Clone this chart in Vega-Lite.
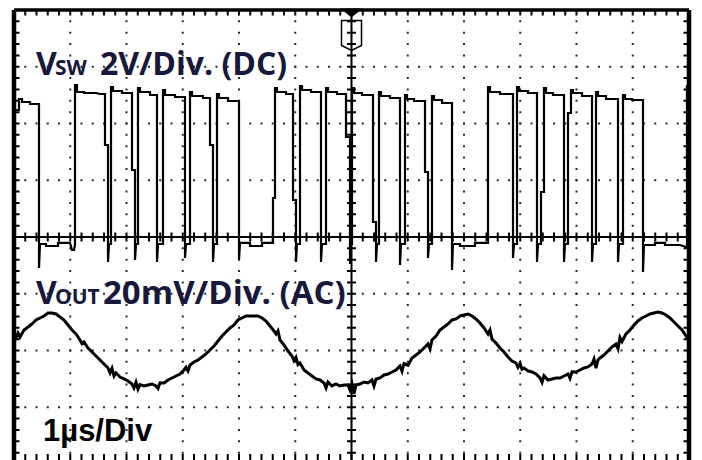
{
  "$schema": "https://vega.github.io/schema/vega-lite/v6.json",
  "width": 675,
  "height": 450,
  "autosize": {"type": "none"},
  "padding": {"left": 14, "top": 10, "right": 13, "bottom": 0},
  "background": "white",
  "config": {"view": {"stroke": null}},
  "resolve": {"scale": {"y": "independent"}},
  "layer": [
    {
      "data": {"values": [{}]},
      "layer": [
        {
          "data": {"values": [{"gx": 1}, {"gx": 2}, {"gx": 3}, {"gx": 4}, {"gx": 5}, {"gx": 7}, {"gx": 8}, {"gx": 9}, {"gx": 10}, {"gx": 11}]},
          "mark": {"type": "rule", "color": "#2a2a2a", "strokeWidth": 2, "strokeDash": [2, 9.35], "strokeDashOffset": 1},
          "encoding": {"x": {"field": "gx", "type": "quantitative", "scale": {"domain": [0, 12], "nice": false, "zero": false}, "axis": null}}
        },
        {
          "data": {"values": [{"gy": -3}, {"gy": -2}, {"gy": -1}, {"gy": 1}, {"gy": 2}, {"gy": 3}]},
          "mark": {"type": "rule", "color": "#2a2a2a", "strokeWidth": 2, "strokeDash": [2, 9.25], "strokeDashOffset": 1},
          "encoding": {"y": {"field": "gy", "type": "quantitative", "scale": {"domain": [-3.93, 4], "nice": false, "zero": false}, "axis": null}}
        },
        {
          "mark": {"type": "rule", "color": "black", "strokeWidth": 2},
          "encoding": {"x": {"datum": 6, "type": "quantitative", "scale": {"domain": [0, 12], "nice": false, "zero": false}, "axis": null}}
        },
        {
          "mark": {"type": "rule", "color": "black", "strokeWidth": 2},
          "encoding": {"y": {"datum": 0, "type": "quantitative", "scale": {"domain": [-3.93, 4], "nice": false, "zero": false}, "axis": null}}
        },
        {
          "mark": {"type": "rule", "color": "black", "strokeWidth": 9, "strokeDash": [2, 9.35], "strokeDashOffset": 1},
          "encoding": {"x": {"datum": 6, "type": "quantitative", "scale": {"domain": [0, 12], "nice": false, "zero": false}, "axis": null}}
        },
        {
          "mark": {"type": "rule", "color": "black", "strokeWidth": 9, "strokeDash": [2, 9.25], "strokeDashOffset": 1},
          "encoding": {"y": {"datum": 0, "type": "quantitative", "scale": {"domain": [-3.93, 4], "nice": false, "zero": false}, "axis": null}}
        },
        {
          "mark": {"type": "rule", "color": "black", "strokeWidth": 11, "strokeDash": [2, 9.35], "strokeDashOffset": 1, "clip": true},
          "encoding": {"x": {"datum": 0, "type": "quantitative", "scale": {"domain": [0, 12], "nice": false, "zero": false}, "axis": null}}
        },
        {
          "mark": {"type": "rule", "color": "black", "strokeWidth": 11, "strokeDash": [2, 9.35], "strokeDashOffset": 1, "clip": true},
          "encoding": {"x": {"datum": 12, "type": "quantitative", "scale": {"domain": [0, 12], "nice": false, "zero": false}, "axis": null}}
        },
        {
          "mark": {"type": "rule", "color": "black", "strokeWidth": 11, "strokeDash": [2, 9.25], "strokeDashOffset": 1, "clip": true},
          "encoding": {"y": {"datum": 4, "type": "quantitative", "scale": {"domain": [-3.93, 4], "nice": false, "zero": false}, "axis": null}}
        },
        {
          "mark": {"type": "rule", "color": "black", "strokeWidth": 20, "strokeDash": [2, 9.25], "strokeDashOffset": 1, "clip": true},
          "encoding": {"y": {"datum": -4, "type": "quantitative", "scale": {"domain": [-3.93, 4], "nice": false, "zero": false}, "axis": null}}
        },
        {
          "mark": {"type": "rule", "color": "black", "strokeWidth": 4.5},
          "encoding": {"x": {"datum": 0, "type": "quantitative", "scale": {"domain": [0, 12], "nice": false, "zero": false}, "axis": null}}
        },
        {
          "mark": {"type": "rule", "color": "black", "strokeWidth": 4.5},
          "encoding": {"x": {"datum": 12, "type": "quantitative", "scale": {"domain": [0, 12], "nice": false, "zero": false}, "axis": null}}
        },
        {
          "mark": {"type": "rule", "color": "black", "strokeWidth": 3.5},
          "encoding": {"y": {"datum": 4, "type": "quantitative", "scale": {"domain": [-3.93, 4], "nice": false, "zero": false}, "axis": null}}
        },
        {
          "mark": {"type": "point", "shape": "M-1,-1.5L1,-1.5L1,1L0,1.5L-1,1Z", "size": 400, "filled": false, "stroke": "black", "strokeWidth": 1.5, "opacity": 1},
          "encoding": {
            "x": {"datum": 6, "type": "quantitative", "scale": {"domain": [0, 12], "nice": false, "zero": false}, "axis": null},
            "y": {"datum": 3.551, "type": "quantitative", "scale": {"domain": [-3.93, 4], "nice": false, "zero": false}, "axis": null}
          }
        },
        {
          "mark": {"type": "point", "shape": "M-1,-0.4L1,-0.4L0,0.4Z", "size": 484, "filled": true, "color": "black", "opacity": 1},
          "encoding": {
            "x": {"datum": 6, "type": "quantitative", "scale": {"domain": [0, 12], "nice": false, "zero": false}, "axis": null},
            "y": {"datum": 3.947, "type": "quantitative", "scale": {"domain": [-3.93, 4], "nice": false, "zero": false}, "axis": null}
          }
        },
        {
          "mark": {"type": "text", "text": "V", "font": "Open Sans", "fontWeight": "bold", "fontSize": 32, "align": "left", "baseline": "alphabetic", "color": "#18183a"},
          "encoding": {
            "x": {"datum": 0.391, "type": "quantitative", "scale": {"domain": [0, 12], "nice": false, "zero": false}, "axis": null},
            "y": {"datum": 2.855, "type": "quantitative", "scale": {"domain": [-3.93, 4], "nice": false, "zero": false}, "axis": null}
          }
        },
        {
          "mark": {"type": "text", "text": "SW", "font": "Open Sans", "fontWeight": "bold", "fontSize": 21, "align": "left", "baseline": "alphabetic", "color": "#18183a"},
          "encoding": {
            "x": {"datum": 0.729, "type": "quantitative", "scale": {"domain": [0, 12], "nice": false, "zero": false}, "axis": null},
            "y": {"datum": 2.855, "type": "quantitative", "scale": {"domain": [-3.93, 4], "nice": false, "zero": false}, "axis": null}
          }
        },
        {
          "mark": {"type": "text", "text": "2V/Div. (DC)", "font": "Open Sans", "fontWeight": "bold", "fontSize": 32, "align": "left", "baseline": "alphabetic", "color": "#18183a"},
          "encoding": {
            "x": {"datum": 1.529, "type": "quantitative", "scale": {"domain": [0, 12], "nice": false, "zero": false}, "axis": null},
            "y": {"datum": 2.855, "type": "quantitative", "scale": {"domain": [-3.93, 4], "nice": false, "zero": false}, "axis": null}
          }
        },
        {
          "mark": {"type": "text", "text": "V", "font": "Open Sans", "fontWeight": "bold", "fontSize": 32, "align": "left", "baseline": "alphabetic", "color": "#18183a"},
          "encoding": {
            "x": {"datum": 0.391, "type": "quantitative", "scale": {"domain": [0, 12], "nice": false, "zero": false}, "axis": null},
            "y": {"datum": -1.181, "type": "quantitative", "scale": {"domain": [-3.93, 4], "nice": false, "zero": false}, "axis": null}
          }
        },
        {
          "mark": {"type": "text", "text": "OUT", "font": "Open Sans", "fontWeight": "bold", "fontSize": 21, "align": "left", "baseline": "alphabetic", "color": "#18183a"},
          "encoding": {
            "x": {"datum": 0.729, "type": "quantitative", "scale": {"domain": [0, 12], "nice": false, "zero": false}, "axis": null},
            "y": {"datum": -1.181, "type": "quantitative", "scale": {"domain": [-3.93, 4], "nice": false, "zero": false}, "axis": null}
          }
        },
        {
          "mark": {"type": "text", "text": "20mV/Div. (AC)", "font": "Open Sans", "fontWeight": "bold", "fontSize": 33, "align": "left", "baseline": "alphabetic", "color": "#18183a"},
          "encoding": {
            "x": {"datum": 1.582, "type": "quantitative", "scale": {"domain": [0, 12], "nice": false, "zero": false}, "axis": null},
            "y": {"datum": -1.181, "type": "quantitative", "scale": {"domain": [-3.93, 4], "nice": false, "zero": false}, "axis": null}
          }
        },
        {
          "mark": {"type": "text", "text": "1µs/Div", "font": "Liberation Sans", "fontWeight": "bold", "fontSize": 31, "align": "left", "baseline": "alphabetic", "color": "black"},
          "encoding": {
            "x": {"datum": 0.516, "type": "quantitative", "scale": {"domain": [0, 12], "nice": false, "zero": false}, "axis": null},
            "y": {"datum": -3.595, "type": "quantitative", "scale": {"domain": [-3.93, 4], "nice": false, "zero": false}, "axis": null}
          }
        }
      ]
    },
    {
      "data": {"values": [
        {"t": 0.0178, "volts": 4.476}, {"t": 0.0889, "volts": 4.476}, {"t": 0.0889, "volts": 4.863}, {"t": 0.1422, "volts": 4.863}, {"t": 0.1422, "volts": 4.758}, {"t": 0.2844, "volts": 4.758}, {"t": 0.2844, "volts": 4.687}, {"t": 0.4444, "volts": 4.687}, {"t": 0.4444, "volts": -1.093}, {"t": 0.4622, "volts": -0.247}, {"t": 0.5689, "volts": -0.247}, {"t": 0.5689, "volts": -0.317}, {"t": 0.7822, "volts": -0.317}, {"t": 0.7822, "volts": -0.211}, {"t": 0.9956, "volts": -0.211}, {"t": 1.0311, "volts": -0.458}, {"t": 1.0667, "volts": -0.458}, {"t": 1.0844, "volts": -0.282},
        {"t": 1.0844, "volts": 5.357}, {"t": 1.12, "volts": 5.357}, {"t": 1.12, "volts": 5.110}, {"t": 1.2444, "volts": 5.110}, {"t": 1.2444, "volts": 5.075}, {"t": 1.4578, "volts": 5.075}, {"t": 1.5289, "volts": 5.040}, {"t": 1.6178, "volts": 5.040}, {"t": 1.6178, "volts": 3.242}, {"t": 1.6711, "volts": 3.242}, {"t": 1.6711, "volts": -0.881}, {"t": 1.6889, "volts": -0.247}, {"t": 1.7244, "volts": -0.247},
        {"t": 1.7244, "volts": 5.286}, {"t": 1.76, "volts": 5.286}, {"t": 1.76, "volts": 5.145}, {"t": 1.92, "volts": 5.145}, {"t": 1.92, "volts": 5.075}, {"t": 2.0978, "volts": 5.075}, {"t": 2.0978, "volts": 2.361}, {"t": 2.1511, "volts": 2.361}, {"t": 2.1511, "volts": -0.811}, {"t": 2.1689, "volts": -0.247}, {"t": 2.2044, "volts": -0.247},
        {"t": 2.2044, "volts": 5.251}, {"t": 2.24, "volts": 5.251}, {"t": 2.24, "volts": 5.110}, {"t": 2.4178, "volts": 5.110}, {"t": 2.4178, "volts": 5.004}, {"t": 2.5422, "volts": 5.004}, {"t": 2.5422, "volts": -0.881}, {"t": 2.56, "volts": -0.247}, {"t": 2.6489, "volts": -0.247},
        {"t": 2.6489, "volts": 5.181}, {"t": 2.6844, "volts": 5.181}, {"t": 2.6844, "volts": 5.004}, {"t": 2.8622, "volts": 5.004}, {"t": 2.8622, "volts": 4.934}, {"t": 3.04, "volts": 4.934}, {"t": 3.04, "volts": -0.740}, {"t": 3.0578, "volts": -0.247}, {"t": 3.1289, "volts": -0.247},
        {"t": 3.1289, "volts": 5.110}, {"t": 3.1644, "volts": 5.110}, {"t": 3.1644, "volts": 4.969}, {"t": 3.36, "volts": 4.969}, {"t": 3.36, "volts": 4.899}, {"t": 3.4844, "volts": 4.899}, {"t": 3.4844, "volts": 3.242}, {"t": 3.5378, "volts": 3.242}, {"t": 3.5378, "volts": -0.881}, {"t": 3.5556, "volts": -0.247}, {"t": 3.6089, "volts": -0.247},
        {"t": 3.6089, "volts": 5.040}, {"t": 3.6444, "volts": 5.040}, {"t": 3.6444, "volts": 4.899}, {"t": 3.8044, "volts": 4.899}, {"t": 3.8044, "volts": 4.793}, {"t": 4.0, "volts": 4.793}, {"t": 4.0, "volts": -0.811}, {"t": 4.0178, "volts": -0.211}, {"t": 4.1956, "volts": -0.211}, {"t": 4.1956, "volts": -0.317}, {"t": 4.4089, "volts": -0.317}, {"t": 4.4089, "volts": -0.211}, {"t": 4.6044, "volts": -0.211},
        {"t": 4.6044, "volts": 1.374}, {"t": 4.64, "volts": 1.374}, {"t": 4.64, "volts": 5.251}, {"t": 4.6756, "volts": 5.251}, {"t": 4.6756, "volts": 5.110}, {"t": 4.8356, "volts": 5.110}, {"t": 4.8356, "volts": 5.040}, {"t": 4.96, "volts": 5.040}, {"t": 4.96, "volts": 1.304}, {"t": 5.0133, "volts": 1.304}, {"t": 5.0133, "volts": -0.881}, {"t": 5.0311, "volts": -0.247}, {"t": 5.0844, "volts": -0.247},
        {"t": 5.0844, "volts": 5.322}, {"t": 5.12, "volts": 5.322}, {"t": 5.12, "volts": 5.181}, {"t": 5.28, "volts": 5.181}, {"t": 5.28, "volts": 5.110}, {"t": 5.4578, "volts": 5.110}, {"t": 5.4578, "volts": -0.881}, {"t": 5.4756, "volts": -0.247}, {"t": 5.5467, "volts": -0.247},
        {"t": 5.5467, "volts": 5.251}, {"t": 5.5822, "volts": 5.251}, {"t": 5.5822, "volts": 5.110}, {"t": 5.7422, "volts": 5.110}, {"t": 5.7422, "volts": 5.040}, {"t": 5.9022, "volts": 5.040}, {"t": 5.9022, "volts": 3.524}, {"t": 5.9733, "volts": 3.524}, {"t": 5.9733, "volts": -0.952}, {"t": 5.9911, "volts": -0.247}, {"t": 6.0089, "volts": -0.247},
        {"t": 6.0089, "volts": 5.251}, {"t": 6.0444, "volts": 5.251}, {"t": 6.0444, "volts": 5.075}, {"t": 6.1867, "volts": 5.075}, {"t": 6.1867, "volts": 5.004}, {"t": 6.3822, "volts": 5.004}, {"t": 6.3822, "volts": 0.529}, {"t": 6.4356, "volts": 0.529}, {"t": 6.4356, "volts": -0.881}, {"t": 6.4533, "volts": -0.247}, {"t": 6.4889, "volts": -0.247},
        {"t": 6.4889, "volts": 5.110}, {"t": 6.5244, "volts": 5.110}, {"t": 6.5244, "volts": 4.969}, {"t": 6.6844, "volts": 4.969}, {"t": 6.6844, "volts": 4.899}, {"t": 6.8622, "volts": 4.899}, {"t": 6.8622, "volts": -0.987}, {"t": 6.88, "volts": -0.247}, {"t": 6.9511, "volts": -0.247},
        {"t": 6.9511, "volts": 5.004}, {"t": 6.9867, "volts": 5.004}, {"t": 6.9867, "volts": 4.863}, {"t": 7.1111, "volts": 4.863}, {"t": 7.1111, "volts": 4.793}, {"t": 7.3067, "volts": 4.793}, {"t": 7.3067, "volts": 2.291}, {"t": 7.36, "volts": 2.291}, {"t": 7.36, "volts": -0.740}, {"t": 7.3778, "volts": -0.247}, {"t": 7.4311, "volts": -0.247},
        {"t": 7.4311, "volts": 4.969}, {"t": 7.4667, "volts": 4.969}, {"t": 7.4667, "volts": 4.828}, {"t": 7.6089, "volts": 4.828}, {"t": 7.6089, "volts": 4.722}, {"t": 7.7867, "volts": 4.722}, {"t": 7.7867, "volts": -1.163}, {"t": 7.8044, "volts": -0.247}, {"t": 7.9289, "volts": -0.247}, {"t": 7.9289, "volts": -0.317}, {"t": 8.1956, "volts": -0.317}, {"t": 8.1956, "volts": -0.211}, {"t": 8.4267, "volts": -0.211},
        {"t": 8.4267, "volts": 5.286}, {"t": 8.4622, "volts": 5.286}, {"t": 8.4622, "volts": 5.110}, {"t": 8.64, "volts": 5.110}, {"t": 8.64, "volts": 5.040}, {"t": 8.8711, "volts": 5.040}, {"t": 8.8711, "volts": -0.740}, {"t": 8.8889, "volts": -0.247}, {"t": 8.9422, "volts": -0.247},
        {"t": 8.9422, "volts": 5.286}, {"t": 8.9778, "volts": 5.286}, {"t": 8.9778, "volts": 5.145}, {"t": 9.1378, "volts": 5.145}, {"t": 9.1378, "volts": 5.075}, {"t": 9.2978, "volts": 5.075}, {"t": 9.2978, "volts": -0.881}, {"t": 9.3156, "volts": -0.247}, {"t": 9.3689, "volts": -0.247}, {"t": 9.3689, "volts": 1.586}, {"t": 9.4222, "volts": 1.586},
        {"t": 9.4222, "volts": 5.251}, {"t": 9.4578, "volts": 5.251}, {"t": 9.4578, "volts": 5.075}, {"t": 9.5822, "volts": 5.075}, {"t": 9.5822, "volts": 5.004}, {"t": 9.7778, "volts": 5.004}, {"t": 9.7778, "volts": -0.881}, {"t": 9.7956, "volts": -0.247}, {"t": 9.8489, "volts": -0.247}, {"t": 9.8489, "volts": 4.370}, {"t": 9.9022, "volts": 4.370},
        {"t": 9.9022, "volts": 5.181}, {"t": 9.9378, "volts": 5.181}, {"t": 9.9378, "volts": 5.075}, {"t": 10.0978, "volts": 5.075}, {"t": 10.0978, "volts": 4.969}, {"t": 10.2756, "volts": 4.969}, {"t": 10.2756, "volts": -0.881}, {"t": 10.2933, "volts": -0.247}, {"t": 10.3467, "volts": -0.247},
        {"t": 10.3467, "volts": 5.110}, {"t": 10.3822, "volts": 5.110}, {"t": 10.3822, "volts": 4.969}, {"t": 10.5244, "volts": 4.969}, {"t": 10.5244, "volts": 4.863}, {"t": 10.7378, "volts": 4.863}, {"t": 10.7378, "volts": -0.881}, {"t": 10.7556, "volts": -0.247}, {"t": 10.8267, "volts": -0.247},
        {"t": 10.8267, "volts": 5.004}, {"t": 10.8622, "volts": 5.004}, {"t": 10.8622, "volts": 4.863}, {"t": 10.9867, "volts": 4.863}, {"t": 10.9867, "volts": 4.828}, {"t": 11.1822, "volts": 4.828}, {"t": 11.1822, "volts": -1.233}, {"t": 11.2, "volts": -0.282}, {"t": 11.3956, "volts": -0.282}, {"t": 11.3956, "volts": -0.211}, {"t": 11.5733, "volts": -0.211}, {"t": 11.5733, "volts": -0.282}, {"t": 11.84, "volts": -0.282}, {"t": 11.9467, "volts": -0.352}, {"t": 11.9644, "volts": -0.352},
        {"t": 11.9644, "volts": 5.322}, {"t": 12.0, "volts": 5.322}
      ]},
      "mark": {"type": "line", "color": "black", "strokeWidth": 2.2, "clip": true},
      "encoding": {
        "x": {"field": "t", "type": "quantitative", "scale": {"domain": [0, 12], "nice": false, "zero": false}, "axis": null},
        "y": {"field": "volts", "type": "quantitative", "scale": {"domain": [-7.86, 8], "nice": false, "zero": false}, "axis": null},
        "order": {"value": null}
      }
    },
    {
      "data": {"values": [
        {"t": 0.018, "mv": 3.70}, {"t": 0.071, "mv": 6.17}, {"t": 0.107, "mv": 4.76}, {"t": 0.178, "mv": 7.22}, {"t": 0.249, "mv": 8.28}, {"t": 0.32, "mv": 9.34}, {"t": 0.391, "mv": 10.75}, {"t": 0.462, "mv": 11.45}, {"t": 0.533, "mv": 12.16}, {"t": 0.604, "mv": 13.22}, {"t": 0.676, "mv": 13.22}, {"t": 0.747, "mv": 12.86}, {"t": 0.818, "mv": 11.81}, {"t": 0.889, "mv": 10.75}, {"t": 0.96, "mv": 8.99}, {"t": 1.031, "mv": 7.22}, {"t": 1.102, "mv": 5.81}, {"t": 1.173, "mv": 3.70}, {"t": 1.209, "mv": 2.4}, {"t": 1.244, "mv": 3.0}, {"t": 1.316, "mv": 0.88}, {"t": 1.387, "mv": -0.53}, {"t": 1.458, "mv": -1.94}, {"t": 1.529, "mv": -3.35}, {"t": 1.6, "mv": -4.76}, {"t": 1.671, "mv": -6.17}, {"t": 1.707, "mv": -7.9}, {"t": 1.742, "mv": -6.3}, {"t": 1.778, "mv": -9.0}, {"t": 1.813, "mv": -7.9}, {"t": 1.884, "mv": -9.34}, {"t": 1.956, "mv": -10.04}, {"t": 2.027, "mv": -10.75}, {"t": 2.098, "mv": -11.81}, {"t": 2.133, "mv": -13.2}, {"t": 2.169, "mv": -11.2}, {"t": 2.204, "mv": -13.6}, {"t": 2.24, "mv": -12.0}, {"t": 2.311, "mv": -12.51}, {"t": 2.382, "mv": -12.16}, {"t": 2.453, "mv": -11.81}, {"t": 2.524, "mv": -12.51}, {"t": 2.56, "mv": -13.4}, {"t": 2.596, "mv": -11.4}, {"t": 2.667, "mv": -11.45}, {"t": 2.738, "mv": -10.40}, {"t": 2.809, "mv": -9.69}, {"t": 2.88, "mv": -8.99}, {"t": 2.951, "mv": -8.28}, {"t": 3.022, "mv": -6.87}, {"t": 3.058, "mv": -5.9}, {"t": 3.093, "mv": -7.2}, {"t": 3.129, "mv": -5.11}, {"t": 3.2, "mv": -4.05}, {"t": 3.271, "mv": -3.35}, {"t": 3.342, "mv": -2.29}, {"t": 3.413, "mv": -1.23}, {"t": 3.484, "mv": 0.18}, {"t": 3.556, "mv": 1.59}, {"t": 3.627, "mv": 3.35}, {"t": 3.698, "mv": 5.11}, {"t": 3.769, "mv": 6.52}, {"t": 3.84, "mv": 7.93}, {"t": 3.911, "mv": 8.99}, {"t": 3.982, "mv": 10.75}, {"t": 4.053, "mv": 11.45}, {"t": 4.124, "mv": 12.16}, {"t": 4.196, "mv": 12.16}, {"t": 4.267, "mv": 12.16}, {"t": 4.338, "mv": 12.16}, {"t": 4.409, "mv": 11.45}, {"t": 4.48, "mv": 10.40}, {"t": 4.551, "mv": 8.63}, {"t": 4.622, "mv": 6.87}, {"t": 4.658, "mv": 5.8}, {"t": 4.693, "mv": 6.9}, {"t": 4.729, "mv": 3.70}, {"t": 4.8, "mv": 1.94}, {"t": 4.871, "mv": -0.18}, {"t": 4.942, "mv": -1.94}, {"t": 4.978, "mv": -3.6}, {"t": 5.013, "mv": -2.4}, {"t": 5.049, "mv": -5.0}, {"t": 5.084, "mv": -4.4}, {"t": 5.156, "mv": -6.87}, {"t": 5.227, "mv": -7.93}, {"t": 5.298, "mv": -8.99}, {"t": 5.369, "mv": -10.04}, {"t": 5.44, "mv": -10.40}, {"t": 5.511, "mv": -11.45}, {"t": 5.547, "mv": -13.2}, {"t": 5.582, "mv": -11.1}, {"t": 5.653, "mv": -12.5}, {"t": 5.724, "mv": -11.8}, {"t": 5.796, "mv": -12.51}, {"t": 5.867, "mv": -12.16}, {"t": 5.938, "mv": -12.16}, {"t": 5.973, "mv": -13.9}, {"t": 6.009, "mv": -11.8}, {"t": 6.044, "mv": -15.3}, {"t": 6.08, "mv": -12.16}, {"t": 6.151, "mv": -11.81}, {"t": 6.222, "mv": -11.10}, {"t": 6.293, "mv": -11.45}, {"t": 6.364, "mv": -10.40}, {"t": 6.4, "mv": -12.5}, {"t": 6.436, "mv": -10.04}, {"t": 6.507, "mv": -9.69}, {"t": 6.578, "mv": -8.63}, {"t": 6.649, "mv": -8.28}, {"t": 6.72, "mv": -7.58}, {"t": 6.791, "mv": -6.87}, {"t": 6.862, "mv": -5.46}, {"t": 6.898, "mv": -7.3}, {"t": 6.933, "mv": -4.6}, {"t": 7.004, "mv": -5.2}, {"t": 7.076, "mv": -2.64}, {"t": 7.147, "mv": -1.59}, {"t": 7.218, "mv": -0.53}, {"t": 7.289, "mv": 0.88}, {"t": 7.36, "mv": 2.29}, {"t": 7.396, "mv": 0.6}, {"t": 7.431, "mv": 3.70}, {"t": 7.502, "mv": 5.11}, {"t": 7.573, "mv": 7.22}, {"t": 7.644, "mv": 8.28}, {"t": 7.716, "mv": 9.34}, {"t": 7.787, "mv": 10.75}, {"t": 7.858, "mv": 11.10}, {"t": 7.929, "mv": 12.16}, {"t": 8.0, "mv": 12.51}, {"t": 8.071, "mv": 12.86}, {"t": 8.142, "mv": 12.16}, {"t": 8.213, "mv": 11.10}, {"t": 8.284, "mv": 9.69}, {"t": 8.356, "mv": 7.93}, {"t": 8.427, "mv": 5.81}, {"t": 8.462, "mv": 7.2}, {"t": 8.498, "mv": 4.0}, {"t": 8.569, "mv": 2.64}, {"t": 8.64, "mv": 0.88}, {"t": 8.711, "mv": -0.53}, {"t": 8.782, "mv": -2.29}, {"t": 8.853, "mv": -3.70}, {"t": 8.924, "mv": -4.41}, {"t": 8.96, "mv": -5.9}, {"t": 8.996, "mv": -4.6}, {"t": 9.031, "mv": -6.6}, {"t": 9.067, "mv": -6.17}, {"t": 9.138, "mv": -7.22}, {"t": 9.209, "mv": -7.58}, {"t": 9.28, "mv": -8.28}, {"t": 9.351, "mv": -9.69}, {"t": 9.387, "mv": -11.2}, {"t": 9.422, "mv": -8.9}, {"t": 9.493, "mv": -10.40}, {"t": 9.564, "mv": -10.04}, {"t": 9.636, "mv": -9.69}, {"t": 9.707, "mv": -9.69}, {"t": 9.778, "mv": -8.99}, {"t": 9.849, "mv": -8.28}, {"t": 9.884, "mv": -9.8}, {"t": 9.92, "mv": -7.5}, {"t": 9.991, "mv": -7.58}, {"t": 10.062, "mv": -6.87}, {"t": 10.133, "mv": -6.17}, {"t": 10.204, "mv": -5.81}, {"t": 10.276, "mv": -4.76}, {"t": 10.311, "mv": -3.0}, {"t": 10.347, "mv": -6.2}, {"t": 10.382, "mv": -3.35}, {"t": 10.418, "mv": -2.64}, {"t": 10.489, "mv": -1.59}, {"t": 10.56, "mv": -0.18}, {"t": 10.631, "mv": 1.23}, {"t": 10.702, "mv": 2.29}, {"t": 10.738, "mv": 0.6}, {"t": 10.773, "mv": 4.6}, {"t": 10.809, "mv": 3.2}, {"t": 10.88, "mv": 5.81}, {"t": 10.951, "mv": 7.22}, {"t": 11.022, "mv": 8.99}, {"t": 11.093, "mv": 10.40}, {"t": 11.164, "mv": 11.45}, {"t": 11.236, "mv": 12.16}, {"t": 11.307, "mv": 12.86}, {"t": 11.378, "mv": 13.22}, {"t": 11.449, "mv": 13.57}, {"t": 11.52, "mv": 13.22}, {"t": 11.591, "mv": 12.51}, {"t": 11.662, "mv": 11.45}, {"t": 11.733, "mv": 10.04}, {"t": 11.804, "mv": 8.63}, {"t": 11.876, "mv": 7.22}, {"t": 11.947, "mv": 5.11}, {"t": 12.0, "mv": 3.70}
      ]},
      "mark": {"type": "line", "color": "black", "strokeWidth": 3, "clip": true},
      "encoding": {
        "x": {"field": "t", "type": "quantitative", "scale": {"domain": [0, 12], "nice": false, "zero": false}, "axis": null},
        "y": {"field": "mv", "type": "quantitative", "scale": {"domain": [-38.6, 120], "nice": false, "zero": false}, "axis": null},
        "order": {"value": null}
      }
    }
  ]
}
